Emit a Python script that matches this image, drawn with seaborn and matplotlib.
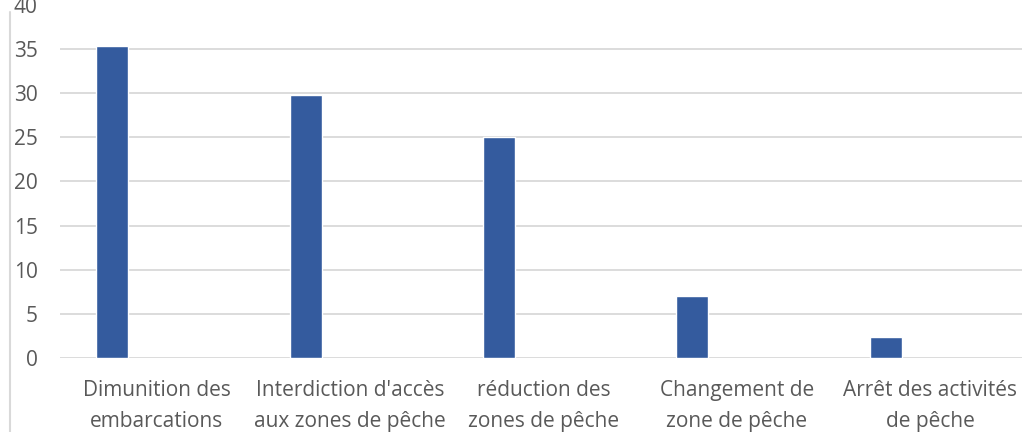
import matplotlib as mpl
mpl.use('Agg')
import matplotlib.pyplot as plt
from matplotlib.lines import Line2D
import pandas as pd
import seaborn as sns

# données
categories = ["Dimunition des\nembarcations",
              "Interdiction d'accès\naux zones de pêche",
              "réduction des\nzones de pêche",
              "Changement de\nzone de pêche",
              "Arrêt des activités\nde pêche"]
values = [35.3, 29.8, 25.0, 7.0, 2.4]
series = ["Série1", "Série2", "Série3"]
yticks = [0, 5, 10, 15, 20, 25, 30, 35, 40]

df = pd.DataFrame({"cat": categories, "val": values, "serie": series[0]})

sns.set_style("white")
plt.rcParams['font.family'] = ['Open Sans', 'DejaVu Sans']
txt = "#595959"

fig = plt.figure(figsize=(10.22, 4.32), dpi=100)
ax = fig.add_axes([60/1022, 74/432, 967/1022, 353.2/432])

sns.barplot(data=df, x="cat", y="val", hue="serie", hue_order=series,
            palette=["#345B9E", "#ED7D31", "#A5A5A5"], width=0.69, gap=0.28,
            dodge=True, saturation=1, order=categories, legend=False,
            ax=ax, zorder=3)

ax.set_ylim(0, 40)
ax.set_yticks(yticks)
ax.set_xlim(-0.5, 4.5)
ax.yaxis.grid(True, color="#d9d9d9", lw=1.3, zorder=0)
ax.get_ygridlines()[-1].set_visible(False)
ax.set_axisbelow(True)
for s in ax.spines.values():
    s.set_visible(False)
ax.set_xlabel("")
ax.set_ylabel("")
ax.tick_params(axis="y", length=0, pad=16, labelsize=15, labelcolor=txt)
ax.tick_params(axis="x", length=0, pad=16, labelsize=15, labelcolor=txt)
for lab in ax.get_xticklabels():
    lab.set_linespacing(1.6)

# bord gauche du graphique
fig.add_artist(Line2D([10/1022, 10/1022], [0, 1 - 12/432],
                      transform=fig.transFigure, color="#d9d9d9", lw=1.5))

plt.savefig("out.png", dpi=100)
